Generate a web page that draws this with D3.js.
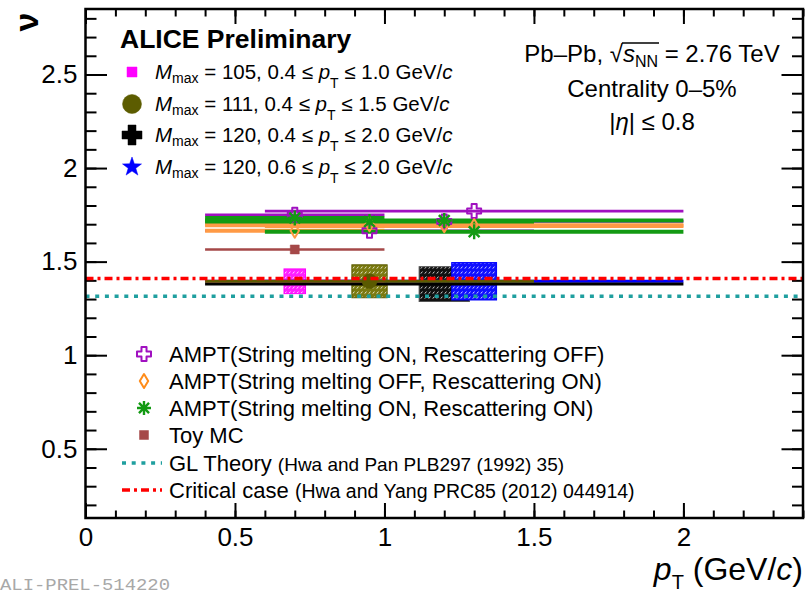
<!DOCTYPE html>
<html><head><meta charset="utf-8">
<script src="https://cdn.jsdelivr.net/npm/d3@7"></script>
<style>
html,body{margin:0;padding:0;background:#fff;}
svg{display:block;font-family:"Liberation Sans",Arial,Helvetica,sans-serif;}
text{white-space:pre;}
</style></head><body>
<svg id="chart" width="805" height="595"></svg>
<script>
// ---- ALICE measurement: scaling exponent nu for four (Mmax, pT range) selections
const dataMmax = ["105", "111", "120", "120"];
const dataPtLow = [0.4, 0.4, 0.4, 0.6];
const dataPtHigh = [1.0, 1.5, 2.0, 2.0];
const dataPt = [0.7, 0.95, 1.2, 1.3];
const dataNu = [1.395, 1.395, 1.38, 1.395];
const dataNuSyst = [0.066, 0.088, 0.093, 0.10];
const dataBoxHalfWidth = [0.036, 0.059, 0.084, 0.075];

// ---- model calculations at the same points
const amptSmOnRescOff = [1.75, 1.665, 1.715, 1.77];
const amptSmOffRescOn = [1.665, 1.70, 1.695, 1.69];
const amptSmOnRescOn = [1.733, 1.714, 1.72, 1.66];
const toyMcPt = [0.7];
const toyMcLow = [0.4];
const toyMcHigh = [1.0];
const toyMcNu = [1.565];

// ---- theory reference values
const glTheoryNu = 1.315;
const criticalNu = 1.41;

// ---- axis ticks
const xTickValues = [0, 0.5, 1, 1.5, 2];
const yTickValues = [0.5, 1, 1.5, 2, 2.5];
const xMinorValues = d3.range(0, 25).map(i => i / 10);
const yMinorValues = d3.range(2, 29).map(i => i / 10);

const svg = d3.select("#chart");
const L = 85.5, R = 803, T = 9, B = 518;
const x = d3.scaleLinear().domain([0, 2.4]).range([L, R]);
const y = d3.scaleLinear().domain([0.13, 2.85]).range([B, T]);

const defs = svg.append("defs");
defs.append("clipPath").attr("id", "plotClip")
  .append("rect").attr("x", L).attr("y", T).attr("width", R - L).attr("height", B - T);

function hatch(id, color) {
  const p = defs.append("pattern").attr("id", id)
    .attr("patternUnits", "userSpaceOnUse").attr("width", 4).attr("height", 5);
  p.append("rect").attr("width", 4).attr("height", 5).attr("fill", color);
  p.append("path").attr("d", "M0.8,3.6L2.4,1.6").attr("stroke", "#fff")
    .attr("stroke-width", 0.9).attr("opacity", 0.9);
}

// marker shapes centred on the origin
function markerPath(type, s) {
  switch (type) {
    case "square": return `M${-s},${-s}H${s}V${s}H${-s}Z`;
    case "circle": return `M${-s},0A${s},${s} 0 1,0 ${s},0A${s},${s} 0 1,0 ${-s},0Z`;
    case "plus": case "openCross": {
      const a = type === "plus" ? s * 0.4 : s * 0.36;
      return `M${-a},${-s}H${a}V${-a}H${s}V${a}H${a}V${s}H${-a}V${a}H${-s}V${-a}H${-a}Z`;
    }
    case "star": {
      let d = "";
      for (let i = 0; i < 10; i++) {
        const r = i % 2 === 0 ? s : s * 0.4;
        const ang = -Math.PI / 2 + i * Math.PI / 5;
        d += (i ? "L" : "M") + (r * Math.cos(ang)).toFixed(2) + "," + (r * Math.sin(ang)).toFixed(2);
      }
      return d + "Z";
    }
    case "diamond": return `M0,${-s}L${s * 0.6},0L0,${s}L${-s * 0.6},0Z`;
    case "asterisk": {
      const q = s * 0.72;
      return `M${-s},0H${s}M0,${-s}V${s}M${-q},${-q}L${q},${q}M${-q},${q}L${q},${-q}`;
    }
  }
}
function drawMarker(g, type, cx, cy, s, color) {
  const open = type === "openCross" || type === "diamond" || type === "asterisk";
  g.append("path").attr("transform", `translate(${cx},${cy})`)
    .attr("d", markerPath(type, s))
    .attr("fill", open ? "none" : color)
    .attr("stroke", color)
    .attr("stroke-width", type === "asterisk" ? 2.4 : (open ? 2 : 0.5))
    .attr("stroke-linejoin", "round");
}

// rich text: runs with italic / subscript pieces
function rich(parent, px, py, runs, size, anchor) {
  const t = parent.append("text").attr("x", px).attr("y", py)
    .attr("font-size", size).attr("text-anchor", anchor || "start").attr("fill", "#000");
  let shift = 0;
  runs.forEach(r => {
    const ts = t.append("tspan").text(r.t);
    const target = r.sub || 0;
    if (target !== shift) { ts.attr("dy", target - shift); shift = target; }
    if (r.size) ts.attr("font-size", r.size);
    if (r.italic) ts.attr("font-style", "italic");
  });
  return t;
}

// ---- axes (ticks point inward on all four sides)
const fmt = d => String(d);
function styleAxis(g, labelSize) {
  g.select(".domain").remove();
  g.selectAll(".tick line").attr("stroke", "#000").attr("stroke-width", 2);
  g.selectAll("text").attr("font-size", labelSize).attr("fill", "#000")
    .attr("font-family", "Liberation Sans, Arial, sans-serif");
}
svg.append("g").attr("transform", `translate(0,${B})`)
  .call(d3.axisBottom(x).tickValues(xMinorValues).tickSize(-7.5).tickFormat(""))
  .call(g => styleAxis(g, 0));
svg.append("g").attr("transform", `translate(0,${B})`)
  .call(d3.axisBottom(x).tickValues(xTickValues).tickSize(-15).tickPadding(10).tickFormat(fmt))
  .call(g => styleAxis(g, 26));
svg.append("g").attr("transform", `translate(0,${T})`)
  .call(d3.axisTop(x).tickValues(xMinorValues).tickSize(-7.5).tickFormat(""))
  .call(g => styleAxis(g, 0));
svg.append("g").attr("transform", `translate(0,${T})`)
  .call(d3.axisTop(x).tickValues(xTickValues).tickSize(-15).tickFormat(""))
  .call(g => styleAxis(g, 0));
svg.append("g").attr("transform", `translate(${L},0)`)
  .call(d3.axisLeft(y).tickValues(yMinorValues).tickSize(-11).tickFormat(""))
  .call(g => styleAxis(g, 0));
svg.append("g").attr("transform", `translate(${L},0)`)
  .call(d3.axisLeft(y).tickValues(yTickValues).tickSize(-21.5).tickPadding(8).tickFormat(fmt))
  .call(g => styleAxis(g, 26));
svg.append("g").attr("transform", `translate(${R},0)`)
  .call(d3.axisRight(y).tickValues(yMinorValues).tickSize(-11).tickFormat(""))
  .call(g => styleAxis(g, 0));
svg.append("g").attr("transform", `translate(${R},0)`)
  .call(d3.axisRight(y).tickValues(yTickValues).tickSize(-21.5).tickFormat(""))
  .call(g => styleAxis(g, 0));

// ---- plot contents
const plot = svg.append("g").attr("clip-path", "url(#plotClip)");

const modelSets = [
  { vals: amptSmOnRescOff, color: "#a010c0", type: "openCross", size: 7, width: 2.6 },
  { vals: amptSmOffRescOn, color: "#ff9a45", type: "diamond", size: 7, width: 4 },
  { vals: amptSmOnRescOn, color: "#139a13", type: "asterisk", size: 7.5, width: 4 }
];
modelSets.forEach(m => {
  m.vals.forEach((v, i) => {
    plot.append("line").attr("x1", x(dataPtLow[i])).attr("x2", x(dataPtHigh[i]))
      .attr("y1", y(v)).attr("y2", y(v)).attr("stroke", m.color).attr("stroke-width", m.width);
  });
});
modelSets.forEach(m => {
  m.vals.forEach((v, i) => drawMarker(plot, m.type, x(dataPt[i]), y(v), m.size, m.color));
});
toyMcNu.forEach((v, i) => {
  plot.append("line").attr("x1", x(toyMcLow[i])).attr("x2", x(toyMcHigh[i]))
    .attr("y1", y(v)).attr("y2", y(v)).attr("stroke", "#a54848").attr("stroke-width", 2.6);
  drawMarker(plot, "square", x(toyMcPt[i]), y(v), 4.5, "#a54848");
});

// data: systematic boxes, pT-range bars, markers
const dataStyle = [
  { color: "#ff00ff", box: "#ff20ff", type: "square", size: 6 },
  { color: "#5c5c00", box: "#7a7a10", type: "circle", size: 8.5 },
  { color: "#000000", box: "#111111", type: "plus", size: 9 },
  { color: "#0000ff", box: "#1010ff", type: "star", size: 10 }
];
dataStyle.forEach((s, i) => hatch("hatch" + i, s.box));
dataNu.forEach((v, i) => {
  plot.append("rect")
    .attr("x", x(dataPt[i] - dataBoxHalfWidth[i]))
    .attr("width", x(dataPt[i] + dataBoxHalfWidth[i]) - x(dataPt[i] - dataBoxHalfWidth[i]))
    .attr("y", y(v + dataNuSyst[i]))
    .attr("height", y(v - dataNuSyst[i]) - y(v + dataNuSyst[i]))
    .attr("fill", `url(#hatch${i})`)
    .attr("stroke", i === 2 ? "#555" : dataStyle[i].color).attr("stroke-width", 1);
});
[3, 0, 2, 1].forEach(i => {
  plot.append("line").attr("x1", x(dataPtLow[i])).attr("x2", x(dataPtHigh[i]))
    .attr("y1", y(dataNu[i])).attr("y2", y(dataNu[i]))
    .attr("stroke", dataStyle[i].color).attr("stroke-width", 3);
});
dataNu.forEach((v, i) => {
  if (i === 1) drawMarker(plot, "circle", x(dataPt[i]), y(v), 7.5, "#5a5a00");
});

// theory reference lines
plot.append("line").attr("x1", x(0)).attr("x2", x(2.4))
  .attr("y1", y(glTheoryNu)).attr("y2", y(glTheoryNu))
  .attr("stroke", "#1f9f9f").attr("stroke-width", 3.5).attr("stroke-dasharray", "4,5.7");
plot.append("line").attr("x1", x(0)).attr("x2", x(2.4))
  .attr("y1", y(criticalNu)).attr("y2", y(criticalNu))
  .attr("stroke", "#ff0000").attr("stroke-width", 3.5).attr("stroke-dasharray", "8,4,3,4");

// ---- frame
svg.append("rect").attr("x", L).attr("y", T).attr("width", R - L).attr("height", B - T)
  .attr("fill", "none").attr("stroke", "#000").attr("stroke-width", 2.5);

// ---- axis titles
rich(svg, 803, 580, [
  { t: "p", italic: true }, { t: "T", sub: 9, size: 20 }, { t: " (GeV/" }, { t: "c", italic: true }, { t: ")" }
], 32, "end");
svg.append("text").attr("transform", "translate(38,22) rotate(-90)")
  .attr("text-anchor", "middle").attr("font-size", 34).attr("font-weight", "bold").text("ν");

// ---- upper-left legend
svg.append("text").attr("x", 120).attr("y", 48).attr("font-size", 26.5)
  .attr("font-weight", "bold").text("ALICE Preliminary");
const topLegendY = [79, 111, 142, 174];
dataMmax.forEach((m, i) => {
  const cy = topLegendY[i] - 7;
  const s = dataStyle[i];
  drawMarker(svg, s.type, 132, cy, i === 0 ? 5 : (i === 1 ? 9.5 : 10), s.color);
  rich(svg, 155, topLegendY[i], [
    { t: "M", italic: true }, { t: "max", sub: 4, size: 14 },
    { t: ` = ${m}, ${dataPtLow[i].toFixed(1)} ≤ ` },
    { t: "p", italic: true }, { t: "T", sub: 9, size: 14 },
    { t: ` ≤ ${dataPtHigh[i].toFixed(1)} GeV/` }, { t: "c", italic: true }
  ], 20.5);
});

// ---- upper-right collision system labels
const sysText = rich(svg, 652, 62, [
  { t: "Pb–Pb, √" }, { t: "s", italic: true }, { t: "NN", sub: 5, size: 16 }, { t: " = 2.76 TeV" }
], 24, "middle");
{
  const node = sysText.node();
  const e0 = node.getExtentOfChar(7);
  const e1 = node.getExtentOfChar(10);
  svg.append("line").attr("x1", e0.x + e0.width - 1).attr("x2", e1.x + e1.width + 1)
    .attr("y1", 62 - 19).attr("y2", 62 - 19).attr("stroke", "#000").attr("stroke-width", 1.3);
}
rich(svg, 652, 97, [{ t: "Centrality 0–5%" }], 24, "middle");
rich(svg, 652, 130, [{ t: "|" }, { t: "η", italic: true }, { t: "| ≤ 0.8" }], 24, "middle");

// ---- lower legend (models and theory)
const lowLegend = [
  { type: "openCross", color: "#a010c0", size: 7, text: "AMPT(String melting ON, Rescattering OFF)" },
  { type: "diamond", color: "#ff8c1a", size: 7, text: "AMPT(String melting OFF, Rescattering ON)" },
  { type: "asterisk", color: "#139a13", size: 7, text: "AMPT(String melting ON, Rescattering ON)" },
  { type: "square", color: "#a54848", size: 4.5, text: "Toy MC" }
];
const lowLegendY = [362, 389, 416, 443];
lowLegend.forEach((d, i) => {
  drawMarker(svg, d.type, 144, lowLegendY[i] - 8, d.size, d.color);
  svg.append("text").attr("x", 169).attr("y", lowLegendY[i]).attr("font-size", 22).text(d.text);
});
svg.append("line").attr("x1", 122).attr("x2", 162).attr("y1", 463).attr("y2", 463)
  .attr("stroke", "#1f9f9f").attr("stroke-width", 3.5).attr("stroke-dasharray", "4,5.7");
rich(svg, 169, 471, [{ t: "GL Theory " }, { t: "(Hwa and Pan PLB297 (1992) 35)", size: 19 }], 22);
svg.append("line").attr("x1", 122).attr("x2", 162).attr("y1", 490).attr("y2", 490)
  .attr("stroke", "#ff0000").attr("stroke-width", 3.5).attr("stroke-dasharray", "8,4,3,4");
rich(svg, 169, 498, [{ t: "Critical case " }, { t: "(Hwa and Yang PRC85 (2012) 044914)", size: 19.5 }], 22);

// ---- figure identifier
svg.append("text").attr("x", 0).attr("y", 590).attr("font-size", 16)
  .attr("font-family", "Liberation Mono, monospace").attr("fill", "#a8a8a8")
  .attr("textLength", 170).attr("lengthAdjust", "spacingAndGlyphs").text("ALI-PREL-514220");
</script>
</body></html>
